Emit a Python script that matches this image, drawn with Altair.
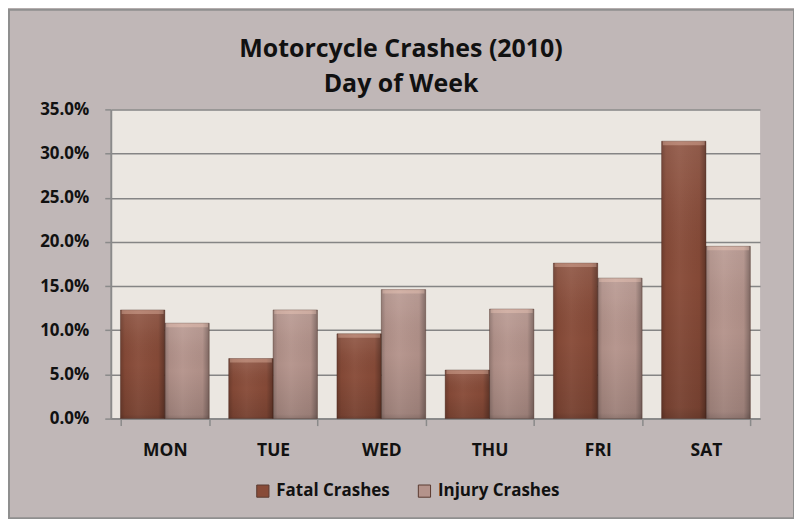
import altair as alt
import pandas as pd

days = ["MON", "TUE", "WED", "THU", "FRI", "SAT"]
fatal = [12.3, 6.8, 9.6, 5.5, 17.6, 31.4]
injury = [10.8, 12.3, 14.6, 12.4, 15.9, 19.5]
series = ["Fatal Crashes", "Injury Crashes"]
colors = ["#884b38", "#b4938b"]
title_lines = ["Motorcycle Crashes (2010)", "Day of Week"]

rows = []
for d, f, i in zip(days, fatal, injury):
    rows.append({"day": d, "series": series[0], "value": f / 100})
    rows.append({"day": d, "series": series[1], "value": i / 100})
df = pd.DataFrame(rows)

W, H = 651, 310
FONT = "Open Sans"

x_enc = alt.X("day:N", sort=days, title=None,
              scale=alt.Scale(paddingInner=0.18, paddingOuter=0.09),
              axis=alt.Axis(labelAngle=0, labelFont=FONT, labelFontSize=17.5, labelFontWeight="bold",
                            labelColor="#111111", labelPadding=16, tickBand="extent",
                            tickSize=7, tickColor="#8a8a8a", domainColor="#8a8a8a",
                            domainWidth=2, tickWidth=1.5, grid=False))
y_enc = alt.Y("value:Q", title=None,
              scale=alt.Scale(domain=[0, 0.35], nice=False),
              axis=alt.Axis(format=".1%", values=[0, 0.05, 0.10, 0.15, 0.20, 0.25, 0.30, 0.35],
                            labelFont=FONT, labelFontSize=17, labelFontWeight="bold",
                            labelColor="#111111", labelPadding=16, tickSize=6,
                            tickColor="#8a8a8a", domainColor="#8a8a8a", domainWidth=2,
                            tickWidth=1.5, gridColor="#858585", gridWidth=1.5))
xo = alt.XOffset("series:N", sort=series, scale=alt.Scale(paddingInner=0, paddingOuter=0))
x_plain = alt.X("day:N", sort=days)

base = alt.Chart(df)

bars = base.mark_bar().encode(
    x=x_enc, y=y_enc, xOffset=xo,
    color=alt.Color("series:N", sort=series,
                    scale=alt.Scale(domain=series, range=colors),
                    legend=alt.Legend(title=None, orient="none", legendX=144, legendY=374,
                                      direction="horizontal", symbolType="square",
                                      symbolSize=150, symbolStrokeColor="#5a3a30",
                                      symbolStrokeWidth=1, labelFont=FONT,
                                      labelFontSize=17, labelFontWeight="bold",
                                      labelColor="#111111", columnPadding=26,
                                      labelOffset=5)),
)

vgrad = alt.Gradient(
    gradient="linear", x1=0, y1=0, x2=0, y2=1,
    stops=[alt.GradientStop(color="rgba(255,255,255,0.10)", offset=0),
           alt.GradientStop(color="rgba(255,255,255,0.06)", offset=0.15),
           alt.GradientStop(color="rgba(0,0,0,0.0)", offset=0.5),
           alt.GradientStop(color="rgba(0,0,0,0.12)", offset=0.96),
           alt.GradientStop(color="rgba(0,0,0,0.22)", offset=1)])
hgrad = alt.Gradient(
    gradient="linear", x1=0, y1=0, x2=1, y2=0,
    stops=[alt.GradientStop(color="rgba(0,0,0,0.20)", offset=0),
           alt.GradientStop(color="rgba(0,0,0,0.04)", offset=0.1),
           alt.GradientStop(color="rgba(255,255,255,0.04)", offset=0.4),
           alt.GradientStop(color="rgba(0,0,0,0.03)", offset=0.85),
           alt.GradientStop(color="rgba(0,0,0,0.30)", offset=1)])

shade_v = base.mark_bar(color=vgrad).encode(x=x_plain, y="value:Q", xOffset=xo)
shade_h = base.mark_bar(color=hgrad, stroke="rgba(60,30,20,0.35)", strokeWidth=1).encode(
    x=x_plain, y="value:Q", xOffset=xo)
caps = base.mark_tick(thickness=4, yOffset=2, color="rgba(255,215,195,0.45)").encode(
    x=x_plain, y="value:Q", xOffset=xo, size=alt.value(42))

one = alt.Chart(pd.DataFrame({"k": [0]}))
border = one.mark_rect(
    fill=None, stroke="#8f8f8f", strokeWidth=2, clip=False
).encode(x=alt.value(-102), x2=alt.value(W + 34), y=alt.value(-100), y2=alt.value(H + 100))
title = one.mark_text(
    text=title_lines, font=FONT, fontSize=25, fontWeight="bold", color="#111111",
    align="center", baseline="alphabetic", lineHeight=36
).encode(x=alt.value(291), y=alt.value(-53))

chart = alt.layer(bars, shade_v, shade_h, caps, border, title).properties(
    width=W, height=H,
    background="#c0b7b7",
    padding={"left": 103, "top": 101, "right": 34, "bottom": 100},
    autosize=alt.AutoSizeParams(type="none"),
).configure_view(fill="#ebe7e1", stroke=None)

chart.save("out.html", embed_options={"renderer": "svg", "actions": False})
